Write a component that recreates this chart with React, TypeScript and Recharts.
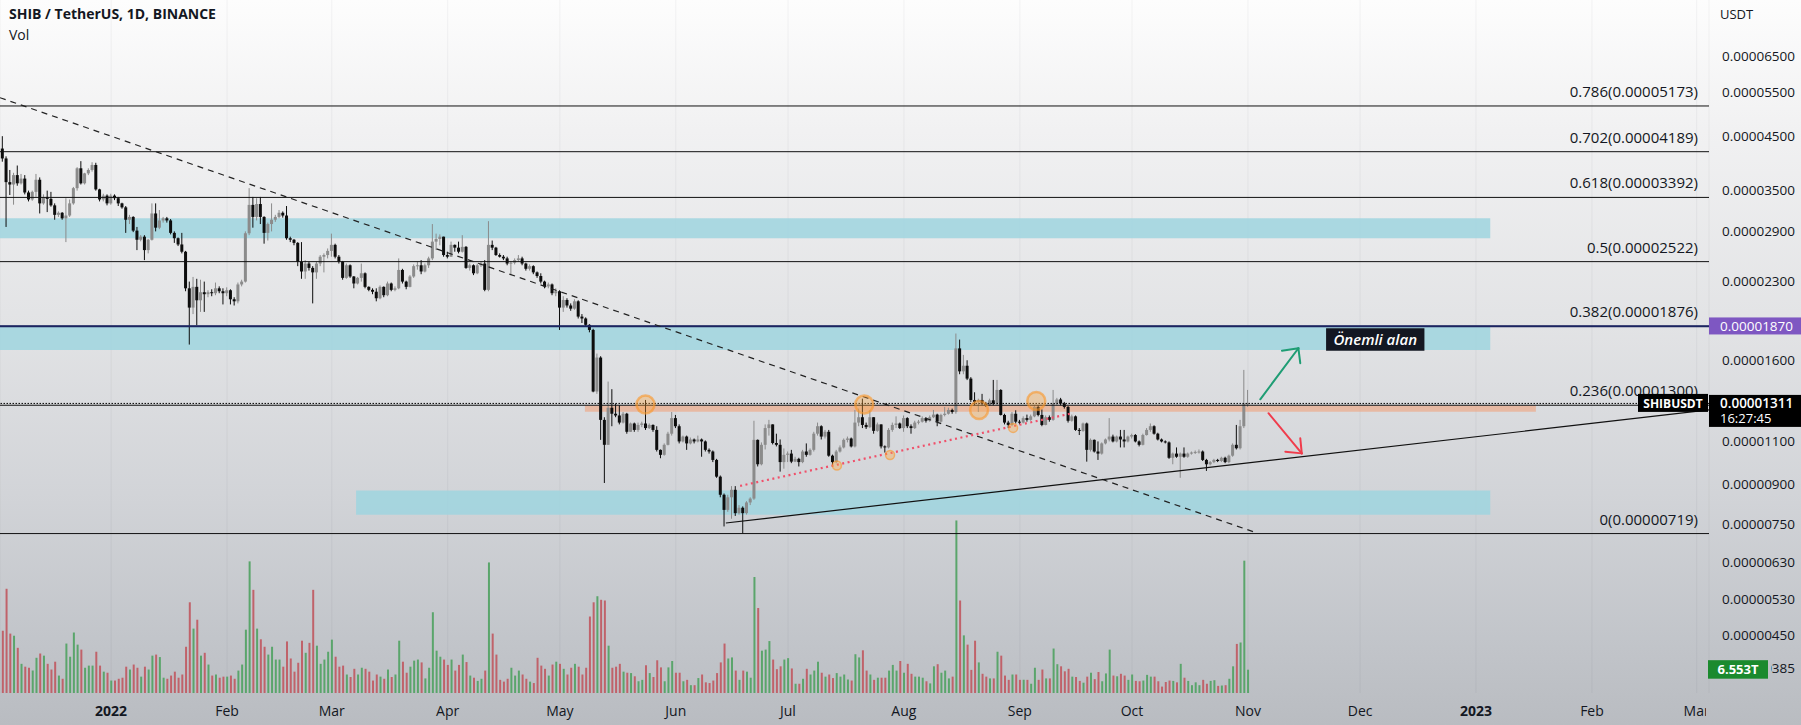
import React from 'react';
import {
  ComposedChart,
  Bar,
  Cell,
  XAxis,
  YAxis,
  CartesianGrid,
  ReferenceLine,
  ReferenceArea,
  ReferenceDot,
} from 'recharts';

const FONT = '"Open Sans", "Noto Sans", sans-serif';
const INK = '#131722';
const CHART_W = 1801;
const CHART_H = 725;
const AXIS_W = 92;

// SHIB/USDT daily candles from 3 Dec 2021, prices in 1e-8 USDT
const firstOpen = 4250;

const closes = [
  4060, 3640, 3600, 3760, 3620, 3700, 3470, 3360, 3480, 3680,
  3300, 3400, 3370, 3270, 3130, 3160, 3080, 3120, 3300, 3540,
  3880, 3620, 3790, 3850, 3940, 3520, 3360, 3420, 3300, 3420,
  3380, 3300, 3240, 3060, 3100, 2910, 2790, 2830, 2660, 2790,
  3150, 2950, 3050, 3080, 3050, 2880, 2810, 2730, 2640, 2230,
  2040, 2245, 2110, 2190, 2170, 2190, 2180, 2230, 2200, 2180,
  2210, 2120, 2100, 2270, 2300, 2875, 3277, 3100, 3290, 3100,
  2880, 3000, 3060, 3100, 3160, 3120, 2810, 2790, 2750, 2520,
  2410, 2500, 2450, 2400, 2500, 2580, 2600, 2650, 2725, 2580,
  2522, 2340, 2480, 2355, 2280, 2340, 2390, 2245, 2214, 2195,
  2130, 2245, 2160, 2280, 2214, 2230, 2427, 2300, 2245, 2355,
  2470, 2480, 2410, 2480, 2560, 2766, 2800, 2830, 2600, 2580,
  2725, 2690, 2640, 2700, 2450, 2480, 2390, 2480, 2500, 2214,
  2725, 2690, 2600, 2580, 2560, 2500, 2510, 2540, 2560, 2500,
  2440, 2470, 2400, 2360, 2300, 2250, 2270, 2180, 2200, 2040,
  2113, 2060, 2030, 2100, 1957, 1940, 1884, 1840, 1385, 1620,
  1215, 1083, 1285, 1250, 1240, 1200, 1250, 1150, 1195, 1160,
  1187, 1195, 1170, 1187, 1160, 1058, 1034, 1083, 1140, 1225,
  1180, 1100, 1125, 1090, 1110, 1100, 1110, 1100, 1058, 1050,
  1010, 935, 860, 802, 850, 880, 790, 810, 790, 830,
  845, 1108, 990, 1083, 1170, 1190, 1092, 1083, 1000, 1034,
  1040, 1002, 1015, 1000, 1050, 1034, 1058, 1140, 1180, 1125,
  1150, 1030, 1000, 1050, 1070, 1108, 1115, 1075, 1200, 1230,
  1187, 1175, 1230, 1155, 1190, 1075, 1070, 1160, 1187, 1195,
  1170, 1225, 1180, 1170, 1200, 1205, 1225, 1210, 1230, 1245,
  1205, 1243, 1250, 1272, 1260, 1690, 1520, 1560, 1470, 1332,
  1320, 1332, 1310, 1300, 1330, 1310, 1395, 1243, 1200, 1187,
  1250, 1205, 1200, 1225, 1215, 1235, 1290, 1243, 1187, 1230,
  1215, 1310, 1335, 1310, 1290, 1210, 1235, 1160, 1155, 1195,
  1058, 1108, 1050, 1040, 1090, 1110, 1125, 1100, 1125, 1110,
  1100, 1125, 1133, 1100, 1083, 1133, 1160, 1180, 1140, 1110,
  1100, 1095, 1020, 1040, 1025, 1040, 1025, 1040, 1045, 1048,
  1050, 1010, 990, 1000, 1010, 1005, 1020, 1000, 1030, 1083,
  1066, 1180, 1310, 1311,
];

const highs = [
  4500, 4100, 3850, 3800, 3930, 3780, 3760, 3500, 3500, 3780,
  3720, 3440, 3500, 3480, 3300, 3180, 3170, 3380, 3360, 3560,
  3900, 4010, 3800, 3880, 3990, 3980, 3530, 3450, 3440, 3450,
  3440, 3400, 3310, 3260, 3130, 3110, 2960, 2850, 2850, 2800,
  3300, 3300, 3200, 3100, 3100, 3070, 2900, 2820, 2880, 2650,
  2300, 2350, 2330, 2320, 2300, 2210, 2220, 2290, 2250, 2230,
  2240, 2220, 2140, 2290, 2320, 2900, 3540, 3400, 3380, 3400,
  3110, 3020, 3300, 3130, 3200, 3180, 3260, 2830, 2800, 2760,
  2760, 2540, 2520, 2470, 2520, 2600, 2620, 2680, 2870, 2740,
  2600, 2530, 2500, 2490, 2360, 2350, 2500, 2400, 2250, 2230,
  2230, 2260, 2250, 2300, 2290, 2250, 2560, 2440, 2310, 2370,
  2490, 2520, 2540, 2500, 2580, 3000, 2870, 2860, 2830, 2640,
  2766, 2730, 2766, 2850, 2710, 2500, 2490, 2500, 2520, 2540,
  3040, 2780, 2700, 2620, 2600, 2580, 2530, 2560, 2600, 2580,
  2510, 2490, 2480, 2410, 2390, 2310, 2290, 2280, 2230, 2210,
  2150, 2130, 2080, 2120, 2110, 1980, 1950, 1890, 1850, 1650,
  1630, 1230, 1450, 1400, 1310, 1300, 1260, 1255, 1200, 1200,
  1200, 1205, 1332, 1195, 1190, 1180, 1060, 1090, 1150, 1260,
  1243, 1190, 1130, 1130, 1120, 1115, 1130, 1115, 1105, 1065,
  1055, 1015, 940, 865, 860, 895, 895, 820, 815, 835,
  850, 1210, 1110, 1095, 1190, 1215, 1190, 1140, 1110, 1065,
  1050, 1058, 1025, 1020, 1058, 1090, 1065, 1150, 1200, 1185,
  1160, 1160, 1035, 1058, 1080, 1115, 1125, 1120, 1272, 1280,
  1340, 1200, 1270, 1230, 1200, 1190, 1080, 1170, 1200, 1235,
  1200, 1240, 1230, 1190, 1210, 1215, 1235, 1230, 1240, 1272,
  1250, 1250, 1290, 1285, 1280, 1810, 1760, 1640, 1600, 1480,
  1380, 1340, 1370, 1320, 1340, 1461, 1461, 1400, 1250, 1210,
  1260, 1270, 1215, 1235, 1245, 1245, 1300, 1300, 1275, 1240,
  1240, 1395, 1345, 1345, 1320, 1295, 1245, 1240, 1170, 1200,
  1200, 1115, 1110, 1100, 1095, 1115, 1225, 1135, 1130, 1160,
  1160, 1130, 1140, 1138, 1105, 1140, 1170, 1195, 1185, 1145,
  1115, 1105, 1100, 1045, 1070, 1045, 1070, 1045, 1050, 1055,
  1060, 1055, 1015, 1005, 1015, 1015, 1025, 1025, 1035, 1090,
  1187, 1215, 1530, 1395,
];

const lows = [
  4000, 2960, 3430, 3280, 3580, 3600, 3440, 3330, 3340, 3400,
  3150, 3280, 3170, 3250, 3060, 3100, 3060, 2760, 3100, 3280,
  3500, 3600, 3600, 3760, 3820, 3500, 3330, 3330, 3270, 3280,
  3350, 3260, 3220, 2880, 3000, 2890, 2660, 2770, 2540, 2620,
  2780, 2900, 2930, 3020, 3020, 2860, 2750, 2710, 2620, 2200,
  1720, 1980, 1880, 2000, 2000, 2140, 2150, 2160, 2180, 2070,
  2150, 2070, 2060, 2080, 2250, 2290, 2850, 2950, 3050, 3000,
  2740, 2780, 2900, 3030, 3080, 3090, 2790, 2760, 2720, 2470,
  2330, 2330, 2420, 2080, 2330, 2470, 2400, 2560, 2580, 2560,
  2500, 2320, 2330, 2340, 2230, 2270, 2300, 2230, 2200, 2170,
  2100, 2120, 2140, 2150, 2200, 2200, 2220, 2280, 2220, 2240,
  2340, 2430, 2380, 2400, 2450, 2540, 2660, 2720, 2580, 2560,
  2590, 2640, 2620, 2630, 2440, 2420, 2370, 2380, 2460, 2200,
  2200, 2660, 2590, 2570, 2540, 2480, 2370, 2490, 2520, 2480,
  2420, 2420, 2380, 2340, 2280, 2230, 2230, 2160, 2150, 1840,
  2000, 2040, 2010, 2020, 1940, 1900, 1870, 1820, 1380, 1370,
  1108, 908, 1083, 1180, 1230, 1190, 1195, 1140, 1150, 1150,
  1150, 1175, 1160, 1165, 1150, 1050, 1018, 1030, 1080, 1130,
  1170, 1090, 1095, 1058, 1085, 1090, 1095, 1025, 1050, 1040,
  1000, 930, 850, 743, 795, 770, 780, 785, 720, 785,
  820, 840, 980, 985, 1060, 1130, 1085, 1075, 957, 970,
  1000, 995, 1000, 980, 995, 1025, 1030, 1050, 1130, 1110,
  1115, 1025, 980, 995, 1045, 1065, 1095, 1070, 1070, 1180,
  1170, 1165, 1170, 1140, 1150, 1065, 1045, 1065, 1150, 1170,
  1165, 1150, 1170, 1140, 1165, 1190, 1200, 1200, 1205, 1225,
  1180, 1200, 1235, 1245, 1250, 1250, 1500, 1500, 1460, 1320,
  1300, 1260, 1300, 1290, 1295, 1300, 1300, 1240, 1190, 1170,
  1180, 1195, 1190, 1195, 1205, 1210, 1230, 1235, 1180, 1185,
  1205, 1210, 1300, 1300, 1280, 1200, 1205, 1155, 1133, 1150,
  1002, 1050, 1045, 1010, 1035, 1085, 1100, 1095, 1095, 1070,
  1070, 1095, 1115, 1095, 1075, 1080, 1130, 1150, 1135, 1105,
  1095, 1090, 1015, 990, 1020, 930, 1020, 1020, 1035, 1038,
  1040, 1005, 960, 985, 995, 1000, 1000, 995, 995, 1025,
  1060, 1060, 1170, 1290,
];

// volume in trillions of SHIB
const volumesT = [
  17.5, 29.3, 16.7, 16.1, 12.7, 8.2, 7.4, 7.1, 6.3, 9.9,
  11.1, 10.5, 8.2, 6.6, 8.8, 4.9, 4.0, 13.9, 10.2, 17.0,
  13.6, 12.2, 7.1, 7.7, 7.7, 11.6, 7.7, 6.0, 5.7, 3.5,
  3.5, 4.0, 4.3, 7.4, 6.6, 8.0, 7.1, 4.6, 7.4, 6.6,
  10.5, 10.8, 10.1, 4.3, 4.0, 4.9, 6.0, 4.3, 5.2, 13.0,
  25.5, 18.1, 20.6, 10.5, 11.3, 8.0, 4.9, 5.2, 4.3, 4.6,
  4.6, 4.9, 4.0, 6.3, 8.0, 17.8, 37.0, 29.0, 18.1, 15.1,
  13.0, 10.8, 13.0, 9.4, 9.4, 7.4, 14.5, 9.7, 6.0, 8.5,
  14.7, 11.3, 14.1, 29.0, 13.3, 8.2, 9.4, 11.6, 15.0, 10.2,
  7.4, 7.7, 5.2, 4.5, 6.8, 5.2, 7.1, 6.8, 6.0, 3.5,
  5.2, 4.6, 4.0, 6.6, 4.5, 5.2, 14.7, 8.8, 5.7, 7.4,
  9.1, 9.4, 8.6, 4.1, 7.1, 22.7, 11.9, 10.2, 9.4, 7.9,
  9.4, 6.3, 7.9, 10.8, 8.7, 4.9, 4.3, 3.4, 4.0, 6.3,
  36.7, 16.7, 10.8, 3.7, 3.2, 4.0, 7.1, 4.9, 6.3, 5.2,
  4.0, 3.2, 2.8, 9.9, 7.7, 6.8, 4.9, 8.0, 8.8, 8.2,
  6.8, 5.2, 7.1, 8.2, 7.4, 5.2, 7.1, 21.5, 25.5, 27.2,
  26.2, 26.0, 13.3, 7.1, 7.4, 8.2, 6.0, 5.7, 5.6, 4.7,
  3.3, 3.7, 7.8, 5.6, 4.5, 9.2, 7.2, 3.3, 7.2, 9.0,
  5.7, 5.7, 3.3, 3.7, 2.2, 2.2, 4.2, 5.2, 3.0, 2.8,
  3.5, 5.6, 8.6, 13.9, 9.7, 10.0, 6.3, 3.7, 6.3, 6.0,
  4.3, 32.6, 23.9, 11.9, 12.2, 14.6, 9.4, 6.7, 7.5, 9.4,
  9.8, 6.9, 2.6, 2.6, 4.0, 6.8, 5.2, 6.3, 8.8, 5.7,
  4.6, 5.2, 4.2, 5.6, 4.6, 5.2, 3.8, 3.5, 10.9, 10.0,
  12.0, 6.3, 5.2, 3.7, 4.3, 4.3, 4.3, 6.3, 7.9, 6.3,
  9.0, 5.7, 8.2, 5.4, 4.6, 4.6, 4.3, 3.3, 2.7, 7.5,
  8.1, 5.7, 6.3, 4.1, 4.6, 48.5, 26.0, 16.2, 13.6, 6.5,
  14.7, 8.6, 5.4, 4.6, 4.1, 4.1, 11.6, 10.5, 4.9, 3.7,
  5.2, 5.2, 3.7, 3.7, 3.7, 2.6, 7.1, 3.7, 6.6, 4.1,
  4.1, 12.5, 8.1, 7.5, 6.1, 6.8, 4.6, 4.5, 3.4, 2.9,
  4.6, 5.7, 3.9, 5.9, 3.3, 5.5, 12.2, 4.9, 4.7, 5.4,
  4.9, 3.7, 5.2, 3.4, 3.3, 3.5, 5.1, 4.6, 4.6, 3.3,
  1.8, 3.1, 3.5, 3.4, 3.0, 8.2, 4.3, 3.4, 2.2, 3.0,
  2.2, 3.7, 2.6, 3.4, 3.6, 2.0, 2.1, 2.2, 4.0, 7.5,
  13.8, 14.2, 37.2, 6.553,
];

// day index of each month start, counted from 3 Dec 2021
const monthTicks = [29, 60, 88, 119, 149, 180, 210, 241, 272, 302, 333, 363, 394, 425, 453];
const monthLabels = ['2022', 'Feb', 'Mar', 'Apr', 'May', 'Jun', 'Jul', 'Aug', 'Sep', 'Oct', 'Nov', 'Dec', '2023', 'Feb', 'Mar'];
const priceTicks = [6500, 5500, 4500, 3500, 2900, 2300, 1600, 1100, 900, 750, 630, 530, 450, 385];
// the price tick that sits behind the volume tag
const tickUnderVolTag = 385;

const fibRatios = ['0.786', '0.702', '0.618', '0.5', '0.382', '0.236', '0'];
const fibPrices = [5173, 4189, 3392, 2522, 1876, 1300, 719];

const resistancePrice = 1870;
const lastPrice = 1311;

// drawings on the chart, in (day index, price) coordinates
const zones = [
  { from: -0.72, to: 397.8, low: 2810, high: 3081 },
  { from: -0.72, to: 397.8, low: 1677, high: 1876 },
  { from: 94.5, to: 397.8, low: 784, high: 877 },
];
const orangeBand = { from: 155.7, to: 410, low: 1262, high: 1298 };
const touches = [
  { i: 171.9, p: 1305, big: true },
  { i: 230.4, p: 1305, big: true },
  { i: 261.1, p: 1272, big: true },
  { i: 276.4, p: 1326, big: true },
  { i: 223.1, p: 984, big: false },
  { i: 237.3, p: 1033, big: false },
  { i: 270.2, p: 1171, big: false },
];
const downTrend = [{ x: -0.72, y: 5374 }, { x: 334.7, y: 724 }];
const upTrend = [{ x: 193.4, y: 755 }, { x: 456.3, y: 1272 }];
const lowsTrend = [{ x: 197.2, y: 896 }, { x: 286.3, y: 1254 }];
const greenArrow = [
  [{ x: 336.3, y: 1336 }, { x: 346.5, y: 1691 }],
  [{ x: 342.1, y: 1672 }, { x: 346.5, y: 1691 }],
  [{ x: 347.0, y: 1578 }, { x: 346.5, y: 1691 }],
];
const redArrow = [
  [{ x: 338.5, y: 1253 }, { x: 347.4, y: 1041 }],
  [{ x: 343.0, y: 1049 }, { x: 347.4, y: 1041 }],
  [{ x: 347.0, y: 1116 }, { x: 347.4, y: 1041 }],
];
const noteBox = { from: 353.9, to: 380.2, low: 1672, high: 1854, text: 'Önemli alan' };

const candles = closes.map((close, i) => {
  const open = i === 0 ? firstOpen : closes[i - 1];
  const high = Math.max(highs[i], open, close);
  const low = Math.min(lows[i], open, close);
  return { i, open, close, high, low, range: [low, high], vol: volumesT[i] };
});

const fmt = (v: number) => (v / 1e8).toFixed(8);

const Candle = (props: any) => {
  const { x, y, width, height, payload } = props;
  if (!payload || height == null) return null;
  const { open, close, high, low } = payload;
  const lh = Math.log(high);
  const span = lh - Math.log(low) || 1;
  const toY = (v: number) => y + (height * (lh - Math.log(v))) / span;
  const cx = x + width / 2;
  const color = close >= open ? '#8b8b8b' : '#0d0d0d';
  const top = toY(Math.max(open, close));
  const bottom = toY(Math.min(open, close));
  return (
    <g>
      <line x1={cx} x2={cx} y1={y} y2={y + height} stroke={color} strokeWidth={1} />
      <rect x={cx - 1.5} y={top} width={3} height={Math.max(bottom - top, 1)} fill={color} />
    </g>
  );
};

const MonthTick = ({ x, y, payload }: any) => {
  const label = monthLabels[monthTicks.indexOf(payload.value)];
  const year = /^\d{4}$/.test(label);
  const plotRight = CHART_W - AXIS_W - 3;
  return (
    <g>
      <clipPath id={`mclip-${payload.value}`}>
        <rect x={0} y={y} width={plotRight} height={40} />
      </clipPath>
      <text
        x={x}
        y={y + 21}
        textAnchor="middle"
        fontSize={14}
        fontWeight={year ? 700 : 400}
        fill={INK}
        fontFamily={FONT}
        clipPath={`url(#mclip-${payload.value})`}
      >
        {label}
      </text>
    </g>
  );
};

const PriceTick = ({ x, y, payload }: any) => {
  const hidden = payload.value === tickUnderVolTag;
  return (
    <g>
      {hidden && (
        <clipPath id="volTagClip">
          <rect x={x + 60} y={y - 12} width={60} height={24} />
        </clipPath>
      )}
      <text
        x={x + 11}
        y={y + 4.5}
        fontSize={13.5}
        fill={INK}
        fontFamily={FONT}
        clipPath={hidden ? 'url(#volTagClip)' : undefined}
      >
        {fmt(payload.value)}
      </text>
    </g>
  );
};

const FibLabel = ({ viewBox, text }: any) => (
  <text x={viewBox.x + viewBox.width - 11} y={viewBox.y - 9} textAnchor="end" fontSize={15} fill={INK} fontFamily={FONT}>
    {text}
  </text>
);

const ResistanceTag = ({ viewBox }: any) => {
  const x = viewBox.x + viewBox.width;
  return (
    <g>
      <rect x={x} y={viewBox.y - 9} width={AXIS_W} height={17} fill="#7e57c2" />
      <text x={x + 11} y={viewBox.y + 4.5} fontSize={13.5} fill="#fff" fontFamily={FONT}>
        {fmt(resistancePrice)}
      </text>
    </g>
  );
};

const LastPriceTag = ({ viewBox }: any) => {
  const x = viewBox.x + viewBox.width;
  return (
    <g>
      <rect x={x - 71} y={viewBox.y - 9.5} width={70} height={18} fill="#000" />
      <text x={x - 36} y={viewBox.y + 4.5} textAnchor="middle" fontSize={12} fontWeight={700} fill="#fff" fontFamily={FONT}>
        SHIBUSDT
      </text>
      <rect x={x} y={viewBox.y - 8.5} width={AXIS_W} height={32} fill="#000" />
      <text x={x + 11} y={viewBox.y + 5} fontSize={13.5} fontWeight={600} fill="#fff" fontFamily={FONT}>
        {fmt(lastPrice)}
      </text>
      <text x={x + 11} y={viewBox.y + 19.5} fontSize={13} fill="#fff" fontFamily={FONT}>
        16:27:45
      </text>
    </g>
  );
};

const VolumeTag = ({ viewBox }: any) => {
  const x = viewBox.x + viewBox.width;
  return (
    <g>
      <rect x={x - 1} y={viewBox.y - 9.5} width={60} height={18.5} fill="#1b8a2e" />
      <text x={x + 29} y={viewBox.y + 4.5} textAnchor="middle" fontSize={13} fontWeight={700} fill="#fff" fontFamily={FONT}>
        {volumesT[volumesT.length - 1].toFixed(3)}T
      </text>
    </g>
  );
};

const NoteLabel = ({ viewBox }: any) => (
  <text
    x={viewBox.x + viewBox.width / 2}
    y={viewBox.y + viewBox.height / 2 + 5}
    textAnchor="middle"
    fontSize={15}
    fontStyle="italic"
    fontWeight={600}
    fill="#fff"
    fontFamily={FONT}
  >
    {noteBox.text}
  </text>
);

export default function App() {
  return (
    <div
      style={{
        position: 'absolute',
        left: 0,
        top: 0,
        width: CHART_W,
        height: CHART_H,
        background: 'linear-gradient(180deg, #fdfdfd 0%, #f1f1f2 18%, #e2e3e5 45%, #d2d4d8 68%, #c2c5ca 88%, #b9bcc1 100%)',
        fontFamily: FONT,
        overflow: 'hidden',
      }}
    >
      <ComposedChart width={CHART_W} height={CHART_H} data={candles} margin={{ top: 0, right: 0, bottom: 0, left: 0 }}>
        <CartesianGrid xAxisId={0} yAxisId="p" horizontal={false} stroke="rgba(42,46,57,0.05)" />
        <XAxis
          dataKey="i"
          type="number"
          domain={[-0.72, 456.3]}
          allowDataOverflow
          ticks={monthTicks}
          tick={<MonthTick />}
          tickLine={false}
          axisLine={false}
          tickSize={0}
          height={32}
          interval={0}
        />
        <XAxis xAxisId="v" dataKey="i" type="number" domain={[-0.72, 456.3]} allowDataOverflow hide />
        <YAxis
          yAxisId="p"
          orientation="right"
          scale="log"
          domain={[344.5, 8436]}
          allowDataOverflow
          ticks={priceTicks}
          tick={<PriceTick />}
          tickLine={false}
          axisLine={false}
          tickSize={0}
          width={AXIS_W}
          interval={0}
        />
        <YAxis yAxisId="v" domain={[0, 194.8]} allowDataOverflow hide />

        {zones.map((z, k) => (
          <ReferenceArea
            key={`zone-${k}`}
            yAxisId="p"
            x1={z.from}
            x2={z.to}
            y1={z.low}
            y2={z.high}
            fill="#9fd5df"
            fillOpacity={0.85}
            stroke="none"
            ifOverflow="hidden"
          />
        ))}
        <ReferenceArea
          yAxisId="p"
          x1={orangeBand.from}
          x2={orangeBand.to}
          y1={orangeBand.low}
          y2={orangeBand.high}
          fill="#f0a27c"
          fillOpacity={0.6}
          stroke="none"
          ifOverflow="hidden"
        />

        <Bar xAxisId="v" yAxisId="v" dataKey="vol" barSize={2} isAnimationActive={false}>
          {candles.map((c) => (
            <Cell key={c.i} fill={c.close >= c.open ? '#5aa56b' : '#c0626a'} />
          ))}
        </Bar>
        <Bar yAxisId="p" dataKey="range" barSize={3} shape={<Candle />} isAnimationActive={false} />

        {fibPrices.map((p, k) => (
          <ReferenceLine
            key={`fib-${k}`}
            yAxisId="p"
            y={p}
            stroke={k === 4 ? '#1c2460' : '#111'}
            strokeWidth={1}
            ifOverflow="visible"
            label={<FibLabel text={`${fibRatios[k]}(${fmt(p)})`} />}
          />
        ))}
        <ReferenceLine yAxisId="p" y={resistancePrice} stroke="#1c2460" strokeWidth={1.5} label={<ResistanceTag />} />

        <ReferenceLine yAxisId="p" segment={downTrend} stroke="#222" strokeWidth={1.2} strokeDasharray="6 5" ifOverflow="visible" />
        <ReferenceLine yAxisId="p" segment={upTrend} stroke="#111" strokeWidth={1.2} ifOverflow="visible" />
        <ReferenceLine yAxisId="p" segment={lowsTrend} stroke="#f0506a" strokeWidth={2.2} strokeDasharray="2 3.5" ifOverflow="visible" />

        {touches.map((t, k) => (
          <ReferenceDot
            key={`touch-${k}`}
            yAxisId="p"
            x={t.i}
            y={t.p}
            r={t.big ? 9 : 4.5}
            fill="rgba(255,166,60,0.35)"
            stroke="rgba(250,150,40,0.6)"
            strokeWidth={t.big ? 2.5 : 1.5}
            ifOverflow="visible"
          />
        ))}

        {greenArrow.map((s, k) => (
          <ReferenceLine key={`ga-${k}`} yAxisId="p" segment={s} stroke="#1f9d74" strokeWidth={2} strokeLinecap="round" ifOverflow="visible" />
        ))}
        {redArrow.map((s, k) => (
          <ReferenceLine key={`ra-${k}`} yAxisId="p" segment={s} stroke="#f03c4c" strokeWidth={2} strokeLinecap="round" ifOverflow="visible" />
        ))}

        <ReferenceArea
          yAxisId="p"
          x1={noteBox.from}
          x2={noteBox.to}
          y1={noteBox.low}
          y2={noteBox.high}
          fill="#131722"
          fillOpacity={1}
          stroke="none"
          label={<NoteLabel />}
        />

        <ReferenceLine yAxisId="p" y={lastPrice} stroke="#000" strokeWidth={1} strokeDasharray="1.5 1.5" label={<LastPriceTag />} />
        <ReferenceLine yAxisId="v" y={volumesT[volumesT.length - 1]} stroke="none" ifOverflow="visible" label={<VolumeTag />} />
      </ComposedChart>

      <div style={{ position: 'absolute', left: 9, top: 5, fontSize: 14, fontWeight: 700, color: INK, lineHeight: '18px' }}>
        SHIB / TetherUS, 1D, BINANCE
      </div>
      <div style={{ position: 'absolute', left: 9, top: 26, fontSize: 14, color: INK, lineHeight: '18px' }}>Vol</div>
      <div style={{ position: 'absolute', left: 1720, top: 6, fontSize: 13, color: INK, lineHeight: '16px' }}>USDT</div>
    </div>
  );
}
